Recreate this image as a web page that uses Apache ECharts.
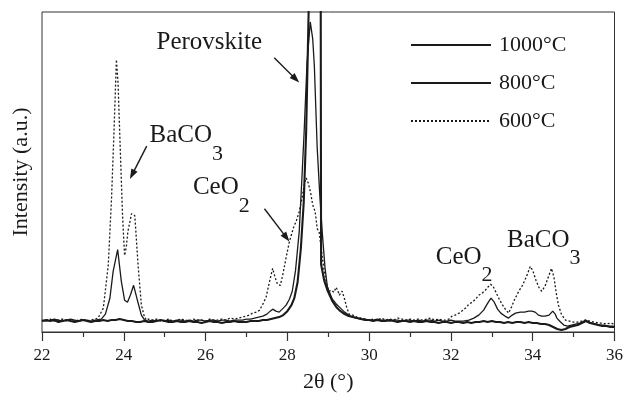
<!DOCTYPE html>
<html>
<head>
<meta charset="utf-8">
<title>XRD patterns</title>
<script src="https://cdn.jsdelivr.net/npm/echarts@6/dist/echarts.min.js"></script>
<style>
  html, body { margin: 0; padding: 0; background: #fff; }
  #chart { width: 626px; height: 398px; }
</style>
</head>
<body>
<div id="chart"></div>
<script>
// Diffraction patterns: [2θ (deg), intensity (a.u.)]
const pattern1000 = [
  [22.0,11],[22.1,12],[22.2,11],[22.3,12],[22.4,10],[22.5,11],[22.6,12],[22.7,11],[22.8,10],[22.9,11],
  [23.0,12],[23.1,11],[23.2,10],[23.3,11],[23.4,11],[23.5,12],[23.6,11],[23.7,12],[23.8,12],[23.9,13],
  [24.0,12],[24.1,11],[24.2,11],[24.3,10],[24.4,10],[24.5,11],[24.6,10],[24.7,10],[24.8,11],[24.9,12],
  [25.0,11],[25.1,10],[25.2,10],[25.3,11],[25.4,10],[25.5,10],[25.6,11],[25.7,10],[25.8,10],[25.9,9],
  [26.0,10],[26.1,11],[26.2,10],[26.3,10],[26.4,9],[26.5,10],[26.6,10],[26.7,11],[26.8,10],[26.9,10],
  [27.0,10],[27.1,11],[27.2,11],[27.3,11],[27.4,12],[27.5,12],[27.6,13],[27.7,14],[27.8,15],[27.9,17],
  [28.0,21],[28.1,27],[28.17,34],[28.25,50],[28.33,84],[28.4,130],[28.46,202],[28.52,322],[28.6,520],
  [28.7,580],[28.78,520],[28.815,360],[28.825,68],[28.9,52],[28.98,42],[29.1,31],[29.2,25],[29.3,21],
  [29.4,18],[29.5,16],[29.6,15],[29.7,14],[29.8,13],[29.9,12],[30.0,12],[30.1,11],[30.2,12],[30.3,11],
  [30.4,11],[30.5,12],[30.6,11],[30.7,10],[30.8,11],[30.9,11],[31.0,10],[31.1,11],[31.2,10],[31.3,10],
  [31.4,11],[31.5,10],[31.6,10],[31.7,9],[31.8,10],[31.9,10],[32.0,9],[32.1,10],[32.2,10],[32.3,9],
  [32.4,10],[32.5,9],[32.6,10],[32.7,10],[32.8,11],[32.9,10],[33.0,11],[33.1,10],[33.2,10],[33.3,9],
  [33.4,10],[33.5,9],[33.6,10],[33.7,10],[33.8,9],[33.9,10],[34.0,9],[34.1,9],[34.2,8],[34.3,8],
  [34.4,7],[34.5,5],[34.6,3],[34.7,2],[34.8,3],[34.9,5],[35.0,6],[35.1,7],[35.2,9],[35.3,11],
  [35.4,9],[35.5,8],[35.6,7],[35.7,6],[35.8,6],[35.9,5],[36.0,5]
];

const pattern800 = [
  [22.0,12],[22.1,11],[22.2,12],[22.3,13],[22.4,12],[22.5,11],[22.6,12],[22.7,13],[22.8,12],[22.9,11],
  [23.0,12],[23.1,12],[23.2,11],[23.3,12],[23.45,13],[23.55,18],[23.66,34],[23.74,61],[23.85,83],
  [23.94,51],[24.02,32],[24.09,30],[24.16,37],[24.24,47],[24.32,34],[24.43,17],[24.51,12],[24.6,11],
  [24.7,12],[24.8,11],[24.9,12],[25.0,11],[25.1,12],[25.2,11],[25.3,12],[25.4,12],[25.5,11],[25.6,12],
  [25.7,11],[25.8,12],[25.9,12],[26.0,11],[26.1,12],[26.2,12],[26.3,11],[26.4,12],[26.5,12],[26.6,11],
  [26.7,12],[26.8,12],[26.9,12],[27.0,13],[27.1,13],[27.2,14],[27.3,15],[27.4,16],[27.5,18],[27.58,21],
  [27.64,23],[27.72,21],[27.8,20],[27.9,24],[27.97,27],[28.05,33],[28.12,41],[28.2,62],[28.29,101],
  [28.35,150],[28.41,201],[28.48,270],[28.56,312],[28.62,295],[28.66,268],[28.73,185],[28.79,140],
  [28.85,102],[28.92,65],[28.98,45],[29.1,33],[29.2,28],[29.3,24],[29.4,20],[29.5,17],[29.6,15],
  [29.7,14],[29.8,13],[29.9,13],[30.0,12],[30.1,12],[30.2,13],[30.3,12],[30.4,12],[30.5,11],[30.6,12],
  [30.7,12],[30.8,11],[30.9,12],[31.0,12],[31.1,11],[31.2,12],[31.3,11],[31.4,12],[31.5,12],[31.6,11],
  [31.7,12],[31.8,11],[31.9,11],[32.0,12],[32.1,11],[32.2,11],[32.3,11],[32.44,12],[32.56,14],[32.68,17],
  [32.8,22],[32.9,29],[32.98,34],[33.06,30],[33.14,23],[33.22,19],[33.32,16],[33.41,14],[33.5,17],
  [33.58,19],[33.7,20],[33.8,20],[33.9,21],[33.98,21],[34.06,20],[34.14,17],[34.22,16],[34.3,16],
  [34.4,17],[34.49,21],[34.55,18],[34.59,14],[34.68,10],[34.76,7],[34.85,6],[34.95,7],[35.05,8],
  [35.15,9],[35.22,10],[35.29,12],[35.37,10],[35.45,9],[35.55,8],[35.65,7],[35.75,7],[35.85,6],
  [35.95,6],[36.0,6]
];

const pattern600 = [
  [22.0,11],[22.1,12],[22.2,13],[22.3,11],[22.4,12],[22.5,13],[22.6,11],[22.7,12],[22.8,11],[22.9,12],
  [23.0,13],[23.1,11],[23.2,12],[23.3,13],[23.37,14],[23.5,24],[23.62,67],[23.7,134],[23.76,201],
  [23.82,274],[23.86,250],[23.9,201],[23.97,117],[24.02,77],[24.06,85],[24.1,101],[24.19,119],
  [24.23,121],[24.27,117],[24.35,67],[24.43,27],[24.5,16],[24.55,12],[24.6,13],[24.7,12],[24.8,13],
  [24.9,11],[25.0,12],[25.1,13],[25.2,11],[25.3,12],[25.4,13],[25.5,12],[25.6,11],[25.7,13],[25.8,12],
  [25.9,12],[26.0,11],[26.1,13],[26.2,12],[26.3,12],[26.4,13],[26.5,12],[26.6,14],[26.7,13],[26.8,14],
  [26.9,15],[27.0,16],[27.07,17],[27.15,19],[27.25,20],[27.32,22],[27.4,28],[27.48,35],[27.56,50],
  [27.64,64],[27.7,55],[27.76,48],[27.83,47],[27.9,60],[27.97,75],[28.05,91],[28.15,105],[28.22,112],
  [28.29,121],[28.36,135],[28.42,150],[28.46,155],[28.51,150],[28.57,140],[28.62,128],[28.68,121],
  [28.73,104],[28.78,100],[28.84,80],[28.9,61],[28.96,48],[29.02,41],[29.08,42],[29.14,40],[29.19,45],
  [29.23,42],[29.27,37],[29.31,39],[29.34,41],[29.4,33],[29.45,25],[29.51,18],[29.6,17],[29.7,15],
  [29.8,14],[29.9,13],[30.0,12],[30.1,13],[30.2,12],[30.3,14],[30.4,12],[30.5,13],[30.6,12],[30.7,14],
  [30.8,13],[30.9,12],[31.0,13],[31.1,12],[31.2,13],[31.3,12],[31.4,13],[31.5,14],[31.6,12],[31.7,13],
  [31.8,12],[31.87,12],[31.95,13],[32.03,16],[32.1,17],[32.2,19],[32.3,22],[32.38,25],[32.44,28],
  [32.52,30],[32.6,33],[32.68,37],[32.76,39],[32.84,42],[32.9,45],[32.97,48],[33.03,46],[33.1,40],
  [33.17,34],[33.25,28],[33.33,23],[33.41,19],[33.48,25],[33.56,33],[33.66,41],[33.75,47],[33.84,55],
  [33.94,66],[34.0,62],[34.08,52],[34.15,45],[34.22,41],[34.3,46],[34.38,55],[34.46,64],[34.52,55],
  [34.58,38],[34.63,27],[34.7,18],[34.8,12],[34.9,11],[35.0,10],[35.1,10],[35.2,11],[35.3,12],
  [35.4,11],[35.5,10],[35.6,9],[35.7,9],[35.8,8],[35.9,9],[36.0,8]
];

const seriesNames = ['1000°C', '800°C', '600°C'];
const xTicks = [22, 24, 26, 28, 30, 32, 34, 36];

// Phase labels (left edge / vertical middle of the main text) and arrows, in data coordinates
const phaseLabels = [
  { base: 'Perovskite', sub: '', at: [24.8, 290] },
  { base: 'BaCO', sub: '3', at: [24.63, 196] },
  { base: 'CeO', sub: '2', at: [25.69, 144] },
  { base: 'CeO', sub: '2', at: [31.63, 74] },
  { base: 'BaCO', sub: '3', at: [33.37, 91] }
];
const phaseArrows = [
  { from: [27.68, 276], to: [28.29, 251] },
  { from: [24.56, 187], to: [24.15, 154] },
  { from: [27.44, 124], to: [28.05, 91] }
];

const serif = "'Liberation Serif', 'DejaVu Serif', 'Times New Roman', serif";
const ink = '#1a1a1a';

const chart = echarts.init(document.getElementById('chart'), null, { renderer: 'canvas' });

const lineStyles = [
  { width: 2.1, type: 'solid' },
  { width: 1.3, type: 'solid' },
  { width: 1.3, type: [2, 2] }
];
const patterns = [pattern1000, pattern800, pattern600];

chart.setOption({
  animation: false,
  backgroundColor: '#fff',
  grid: {
    left: 42, right: 11, top: 12, bottom: 64,
    show: true, borderColor: '#333', borderWidth: 1
  },
  legend: {
    orient: 'vertical',
    left: 405, top: 29,
    itemWidth: 80, itemHeight: 14, itemGap: 16,
    itemStyle: { opacity: 0 },
    textStyle: { fontFamily: serif, fontSize: 22, color: ink, padding: [0, 0, 0, 3] },
    data: seriesNames
  },
  xAxis: {
    type: 'value',
    min: xTicks[0], max: xTicks[xTicks.length - 1], interval: 2,
    name: '2θ (°)',
    nameLocation: 'middle', nameGap: 39,
    nameTextStyle: { fontFamily: serif, fontSize: 22, color: ink },
    axisLine: { show: true, lineStyle: { color: '#333', width: 1.2 } },
    axisTick: { show: true, inside: false, length: 9, lineStyle: { color: '#333', width: 1.2 } },
    minorTick: { show: true, splitNumber: 2, length: 5, lineStyle: { color: '#333', width: 1.2 } },
    axisLabel: { fontFamily: serif, fontSize: 17, color: ink, margin: 15 },
    splitLine: { show: false }
  },
  yAxis: {
    type: 'value',
    min: 0, max: 322,
    name: 'Intensity (a.u.)',
    nameLocation: 'middle', nameGap: 10,
    nameTextStyle: { fontFamily: serif, fontSize: 22, color: ink },
    axisLine: { show: false },
    axisTick: { show: false },
    axisLabel: { show: false },
    splitLine: { show: false }
  },
  series: seriesNames.map((name, i) => ({
    name,
    type: 'line',
    data: patterns[i],
    symbol: 'none',
    smooth: false,
    clip: true,
    z: 3 - i,
    lineStyle: { color: ink, width: lineStyles[i].width, type: lineStyles[i].type },
    itemStyle: { color: ink }
  }))
});

// Phase annotations positioned through the grid's coordinate system
function buildAnnotations() {
  const els = [];
  phaseLabels.forEach(lab => {
    const p = chart.convertToPixel({ gridIndex: 0 }, lab.at);
    els.push({
      type: 'text',
      x: p[0], y: p[1] - 14,
      silent: true,
      style: {
        text: lab.sub ? '{b|' + lab.base + '}{s|' + lab.sub + '}' : '{b|' + lab.base + '}',
        align: 'left',
        verticalAlign: 'top',
        rich: {
          b: { fontFamily: serif, fontSize: 25, lineHeight: 28, verticalAlign: 'top', fill: ink },
          s: { fontFamily: serif, fontSize: 22, lineHeight: 22, padding: [20, 0, 0, 0], verticalAlign: 'top', fill: ink }
        }
      }
    });
  });
  phaseArrows.forEach(ar => {
    const a = chart.convertToPixel({ gridIndex: 0 }, ar.from);
    const b = chart.convertToPixel({ gridIndex: 0 }, ar.to);
    const dx = b[0] - a[0], dy = b[1] - a[1];
    const len = Math.sqrt(dx * dx + dy * dy);
    const ux = dx / len, uy = dy / len;
    const headLen = 10, headHalf = 3.5;
    const bx = b[0] - ux * headLen, by = b[1] - uy * headLen;
    els.push({
      type: 'line', silent: true,
      shape: { x1: a[0], y1: a[1], x2: bx + ux * 2, y2: by + uy * 2 },
      style: { stroke: ink, lineWidth: 1.4 }
    });
    els.push({
      type: 'polygon', silent: true,
      shape: { points: [
        [b[0], b[1]],
        [bx - uy * headHalf, by + ux * headHalf],
        [bx + uy * headHalf, by - ux * headHalf]
      ] },
      style: { fill: ink }
    });
  });
  chart.setOption({ graphic: els });
}
buildAnnotations();
</script>
</body>
</html>
